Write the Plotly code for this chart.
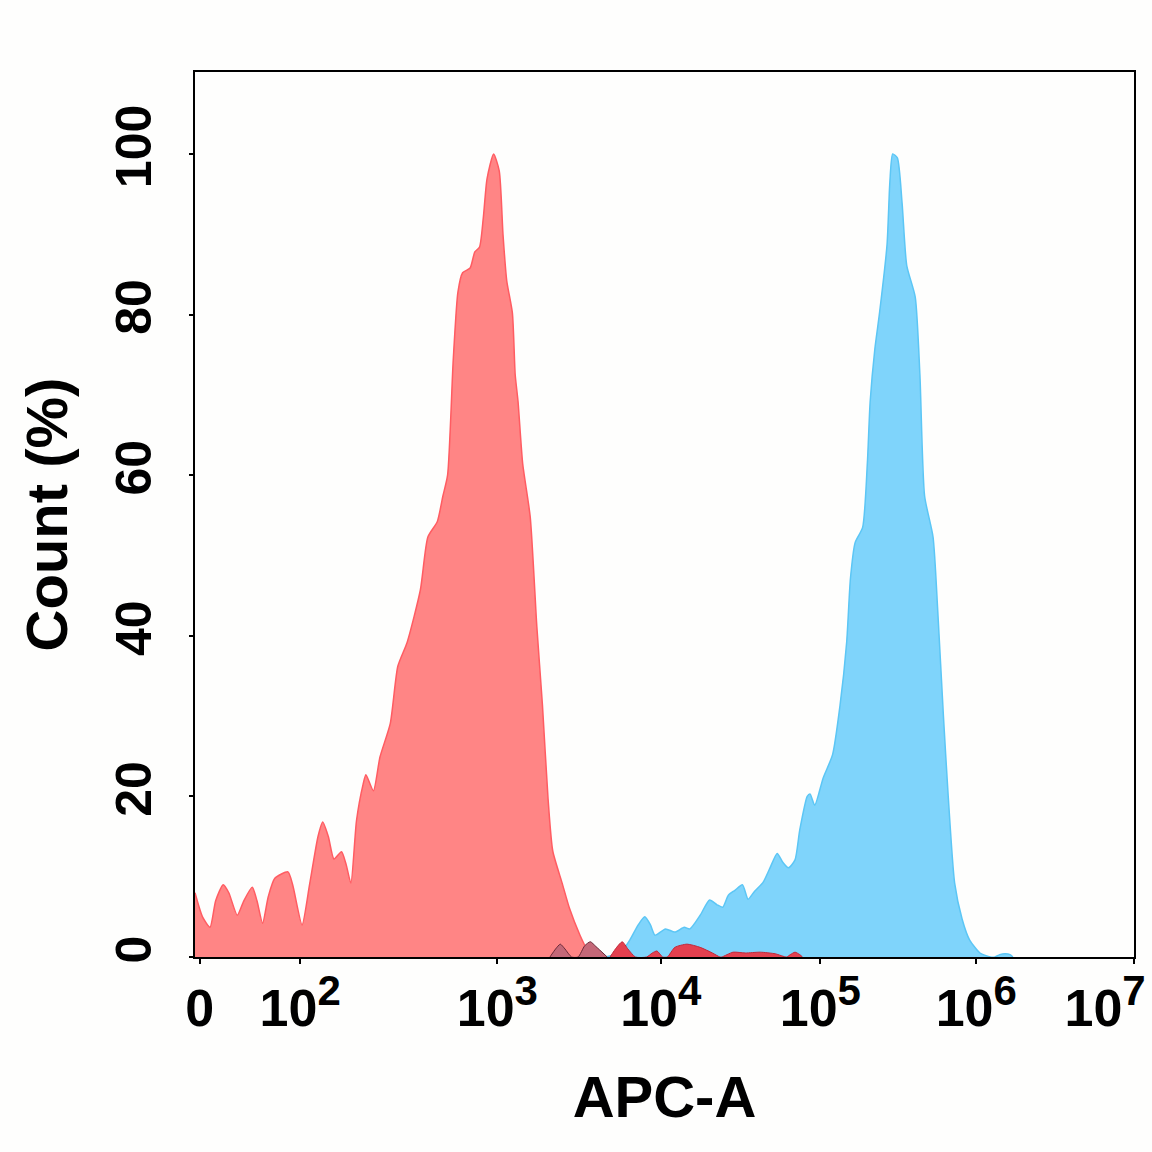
import plotly.graph_objects as go

# x values are display channels (0-1000) of the biexponential APC-A axis
red_x = [0, 8, 16, 22, 30, 36, 45, 52, 61, 66, 72, 78, 85, 99, 104, 114, 122, 131, 136, 142,
         148, 156, 161, 166, 172, 179, 182, 190, 197, 208, 216, 226, 240, 248, 258, 264, 269,
         275, 280, 285, 293, 298, 303, 307, 311, 318, 324, 328, 332, 338, 341, 344, 349, 357,
         364, 370, 376, 381, 391, 399, 410, 421]
red_y = [8.0, 5.0, 3.7, 7.0, 9.0, 8.0, 5.2, 7.0, 8.7, 7.0, 4.2, 7.5, 9.8, 10.6, 9.0, 4.0, 9.0,
         15.0, 16.8, 15.0, 12.2, 13.1, 11.5, 9.2, 17.0, 21.5, 22.7, 20.7, 24.9, 29.1, 36.2, 39.2,
         45.7, 52.3, 54.2, 57.4, 60.0, 74.3, 82.8, 85.2, 85.8, 87.8, 88.4, 92.0, 96.9, 100.0,
         97.9, 90.0, 84.2, 80.2, 72.5, 69.2, 61.4, 54.8, 41.2, 31.4, 19.7, 13.2, 9.2, 6.0, 2.7, 0.0]

mauve_x = [378, 384, 389, 394, 401, 408, 415, 421, 427, 439]
mauve_y = [0.0, 1.0, 1.6, 1.0, 0.0, 0.0, 1.4, 1.9, 1.3, 0.0]

tail_x = [442, 449, 455, 461, 469, 481, 487, 492, 498, 503, 511, 524, 538, 551, 559, 561, 573,
          586, 602, 618, 630, 634, 639, 644, 647]
tail_y = [0.0, 1.2, 1.9, 1.0, 0.0, 0.0, 0.5, 0.75, 0.0, 0.0, 1.2, 1.6, 1.2, 0.5, 0.0, 0.0, 0.6,
          0.5, 0.6, 0.4, 0.0, 0.3, 0.6, 0.3, 0.0]

blue_x = [437, 447, 455, 463, 472, 479, 485, 490, 501, 511, 521, 527, 538, 548, 556, 562, 568,
          575, 583, 589, 596, 605, 612, 620, 626, 632, 639, 644, 652, 655, 660, 669, 679, 687,
          694, 698, 703, 711, 716, 719, 724, 729, 737, 740, 743, 748, 753, 758, 767, 772, 777,
          786, 791, 797, 802, 809, 817, 825, 836, 847, 852, 857, 863, 868, 871]
blue_y = [0.0, 0.3, 0.8, 2.1, 4.0, 5.0, 4.0, 2.7, 3.5, 3.1, 3.7, 3.5, 5.2, 7.1, 6.5, 6.2, 7.7,
          8.3, 9.0, 7.2, 8.2, 9.3, 11.0, 12.9, 11.8, 11.1, 12.1, 15.8, 20.0, 20.3, 18.9, 22.3,
          25.2, 31.4, 39.2, 47.1, 51.6, 53.5, 61.4, 69.1, 75.7, 80.2, 88.7, 96.5, 100.0, 99.5,
          93.9, 86.1, 82.2, 72.5, 57.4, 52.3, 43.1, 30.1, 20.3, 9.2, 4.7, 2.1, 0.5, 0.0, 0.0,
          0.3, 0.4, 0.3, 0.0]

tick_vals = [5, 112, 322, 496, 666, 832, 1000]
exponents = ["", "2", "3", "4", "5", "6", "7"]
y_ticks = [0, 20, 40, 60, 80, 100]

FONT = "Liberation Sans, Arial, sans-serif"


def sup_label(e):
    if e == "":
        return "0"
    return "10<sup><span style='font-size:42px'>" + e + "</span></sup>"


tick_text = [sup_label(e) for e in exponents]
# the last label sits at the very edge; pad it so it is drawn a bit to the left like the original
tick_text[-1] = tick_text[-1] + "\u00a0\u00a0\u00a0\u00a0"

fig = go.Figure()
fig.add_trace(go.Scatter(x=red_x, y=red_y, mode="lines", fill="tozeroy",
                         line=dict(color="#ff5c62", width=1.5, shape="spline", smoothing=0.6),
                         fillcolor="#ff8585", showlegend=False))
fig.add_trace(go.Scatter(x=blue_x, y=blue_y, mode="lines", fill="tozeroy",
                         line=dict(color="#5cc6f5", width=1.5, shape="spline", smoothing=0.6),
                         fillcolor="#7fd4fb", showlegend=False))
fig.add_trace(go.Scatter(x=mauve_x, y=mauve_y, mode="lines", fill="tozeroy",
                         line=dict(color="#6a2a38", width=1, shape="spline", smoothing=0.6),
                         fillcolor="#c46878", showlegend=False))
fig.add_trace(go.Scatter(x=tail_x, y=tail_y, mode="lines", fill="tozeroy",
                         line=dict(color="#c0283a", width=1, shape="spline", smoothing=0.6),
                         fillcolor="#e4404f", showlegend=False))

fig.update_layout(
    width=1152, height=1152,
    margin=dict(l=195, r=18, t=72, b=195),
    paper_bgcolor="#fefefd", plot_bgcolor="#fefefd",
    font=dict(family=FONT, color="black"),
)
fig.update_xaxes(
    range=[0, 1000], tickmode="array", tickvals=tick_vals, ticktext=tick_text,
    tickfont=dict(size=52, family=FONT, weight="bold"), ticklabeloverflow="allow",
    automargin=False,
    ticks="outside", ticklen=5, tickwidth=2, tickcolor="black",
    showline=True, linecolor="black", linewidth=2, mirror=True,
    showgrid=False, zeroline=False,
    title=dict(text="APC-A", font=dict(size=58, family=FONT, weight="bold"), standoff=40),
)
fig.update_yaxes(
    range=[0, 110.2], tickmode="array", tickvals=y_ticks,
    tickangle=-90, tickfont=dict(size=50, family=FONT, weight="bold"),
    automargin=False,
    ticks="outside", ticklen=4, tickwidth=2, tickcolor="black",
    showline=True, linecolor="black", linewidth=2, mirror=True,
    showgrid=False, zeroline=False, ticklabelstandoff=18,
    title=dict(text="Count (%)", font=dict(size=58, family=FONT, weight="bold"), standoff=20),
)

fig.write_html("out.html")
